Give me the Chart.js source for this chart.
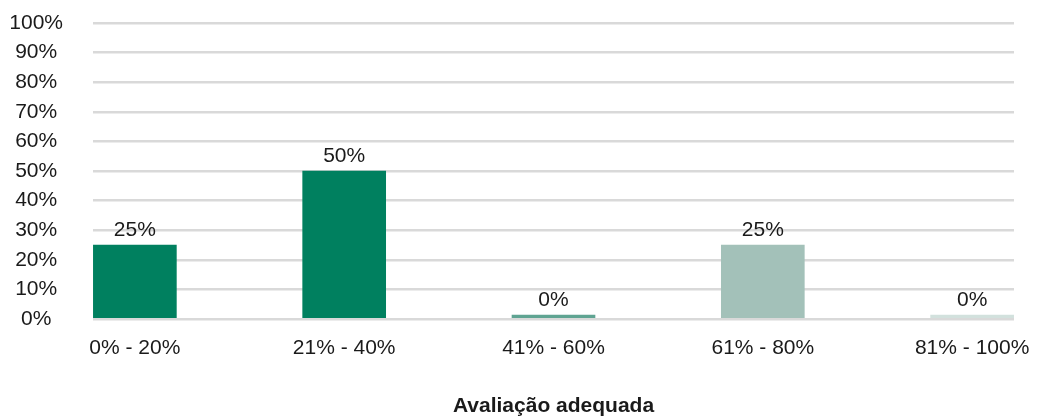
<!DOCTYPE html>
<html lang="pt">
<head>
    <meta charset="UTF-8">
    <title>Avaliação adequada</title>
    <script src="https://cdn.jsdelivr.net/npm/chart.js"></script>
    <style>
        html, body { margin: 0; padding: 0; background: #fff; }
        .wrap { width: 1037px; height: 417px; }
    </style>
</head>
<body>
    <div class="wrap"><canvas id="grafico"></canvas></div>
    <script>
        const faixas = ['0% - 20%', '21% - 40%', '41% - 60%', '61% - 80%', '81% - 100%'];
        const percentuais = [25, 50, 0, 25, 0];
        const coresBarras = ['#00805f', '#00805f', '#5fa492', '#a3c1b9', '#d2e1dd'];
        const ticksY = [0, 10, 20, 30, 40, 50, 60, 70, 80, 90, 100];

        const fonte = '"Liberation Sans", Arial, Helvetica, sans-serif';

        // rótulo de valor acima de cada barra
        const rotulosValor = {
            id: 'rotulosValor',
            afterDatasetsDraw(chart) {
                const ctx = chart.ctx;
                const meta = chart.getDatasetMeta(0);
                ctx.save();
                ctx.font = '21px ' + fonte;
                ctx.fillStyle = '#1a1a1a';
                ctx.textAlign = 'center';
                ctx.textBaseline = 'alphabetic';
                meta.data.forEach((bar, i) => {
                    ctx.fillText(percentuais[i] + '%', bar.x, bar.y - 9);
                });
                ctx.restore();
            }
        };

        new Chart(document.getElementById('grafico'), {
            type: 'bar',
            data: {
                datasets: [{
                    data: percentuais.map((v, i) => ({ x: i, y: v })),
                    backgroundColor: coresBarras,
                    barThickness: 83,
                    minBarLength: 4,
                    borderWidth: 0
                }]
            },
            options: {
                responsive: true,
                maintainAspectRatio: false,
                animation: false,
                layout: { padding: { left: 11, right: 23, top: 23, bottom: 0 } },
                plugins: {
                    legend: { display: false },
                    tooltip: { enabled: false }
                },
                scales: {
                    x: {
                        type: 'linear',
                        min: -0.2,
                        max: 4.2,
                        offset: false,
                        afterBuildTicks: s => { s.ticks = faixas.map((f, i) => ({ value: i })); },
                        afterFit: s => { s.height = 98; s.paddingLeft = 0; s.paddingRight = 0; },
                        grid: { display: false, drawTicks: false },
                        border: { display: false },
                        ticks: {
                            autoSkip: false,
                            maxRotation: 0,
                            padding: 17,
                            color: '#1a1a1a',
                            font: { family: fonte, size: 21 },
                            callback: v => faixas[v]
                        },
                        title: {
                            display: true,
                            text: 'Avaliação adequada',
                            color: '#1a1a1a',
                            font: { family: fonte, size: 21, weight: 'bold', lineHeight: 1 },
                            padding: { top: 34, bottom: 0 }
                        }
                    },
                    y: {
                        min: 0,
                        max: 100,
                        afterBuildTicks: s => { s.ticks = ticksY.map(v => ({ value: v })); },
                        afterFit: s => { s.width = 82; s.paddingTop = 0; s.paddingBottom = 0; },
                        border: { display: false },
                        grid: { color: '#d9d9d9', lineWidth: 2.5, drawTicks: false },
                        ticks: {
                            autoSkip: false,
                            padding: 30,
                            crossAlign: 'center',
                            color: '#1a1a1a',
                            font: { family: fonte, size: 21 },
                            callback: v => v + '%'
                        }
                    }
                }
            },
            plugins: [rotulosValor]
        });
    </script>
</body>
</html>
